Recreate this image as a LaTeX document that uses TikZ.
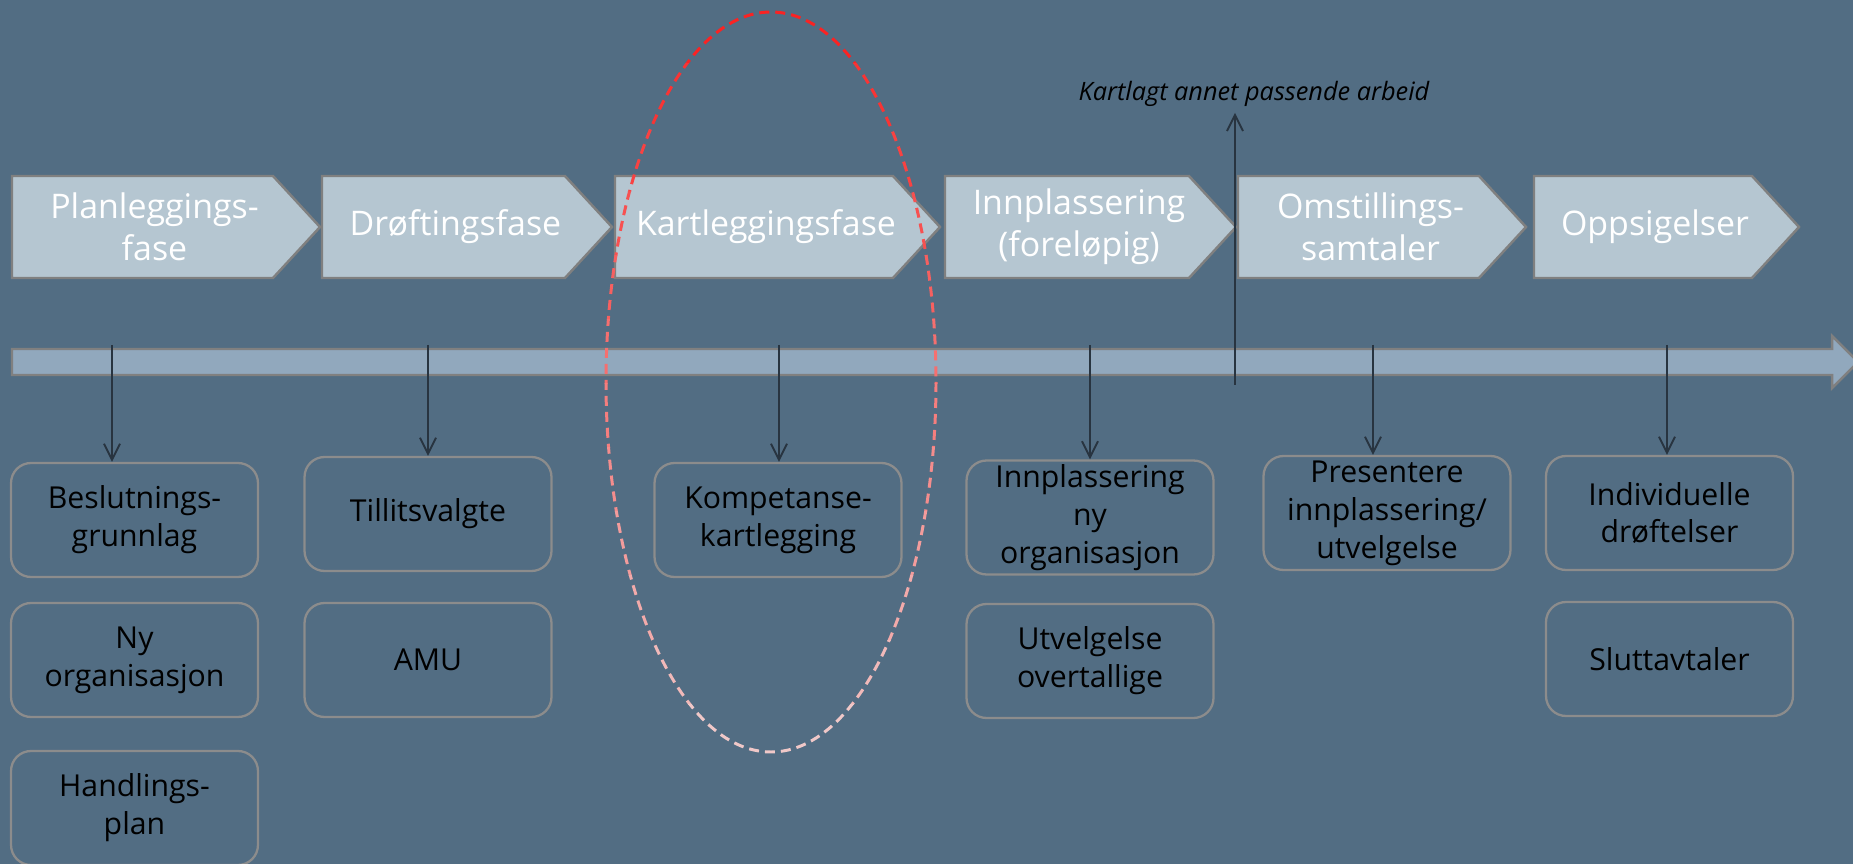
\documentclass[tikz,border=0pt]{standalone}
\usepackage{fontspec}
\setmainfont{Open Sans}
\usetikzlibrary{arrows.meta}
\definecolor{bgblue}{RGB}{82,109,131}
\definecolor{chevfill}{RGB}{181,198,209}
\definecolor{chevline}{RGB}{128,128,128}
\definecolor{barfill}{RGB}{145,168,189}
\definecolor{boxline}{RGB}{140,140,140}
\definecolor{arrowdark}{RGB}{40,52,64}
\definecolor{redtop}{RGB}{250,35,35}
\definecolor{pinkbot}{RGB}{240,200,200}
\tikzset{
	phase/.style={fill=chevfill, draw=chevline, line width=1.4pt},
	phasetext/.style={text=white, align=center, font=\fontsize{19.3}{24}\selectfont},
	task/.style={draw=boxline, line width=1.3pt, rounded corners=0.4cm, minimum width=4.94cm, minimum height=2.28cm, inner sep=0pt, align=center, font=\fontsize{17.2}{21.6}\selectfont},
	link/.style={->, draw=arrowdark, line width=1.1pt},
	ring/.style={dash pattern=on 0.2cm off 0.12cm, line width=1.7pt}
}
\begin{document}
\begin{tikzpicture}[x=0.02cm, y=-0.02cm, >={Straight Barb[length=0.32cm,width=0.32cm]}]
	\fill[bgblue] (0,0) rectangle (1853,864);
	\useasboundingbox (0,0) rectangle (1853,864);
	\foreach \n/\x/\w/\t in {1/12/261/{Planleggings-\\fase}, 2/322/243/{Drøftingsfase}, 3/615/278/{Kartleggingsfase}, 4/945/244/{Innplassering\\(foreløpig)}, 5/1238/241/{Omstillings-\\samtaler}, 6/1534/218/{Oppsigelser}}
	{
		\draw[phase] (\x,176) -- ++(\w,0) -- ++(47,51) -- ++(-47,51) -- ++(-\w,0) -- cycle;
		\node[phasetext] (f\n) at ({\x+\w/2+12},227) {\t};
	}
	\draw[fill=barfill, draw=chevline, line width=1.4pt] (12,349) -- (1832,349) -- (1832,336) -- (1858,362) -- (1832,388) -- (1832,375) -- (12,375) -- cycle;
	\foreach \i/\x in {1/112,2/428,3/779,4/1090,5/1373,6/1667}
		\coordinate (t\i) at (\x,345);
	\node[task] (b11) at (134.5,520) {Beslutnings-\\grunnlag};
	\node[task] (b12) at (134.5,660) {Ny\\organisasjon};
	\node[task] (b13) at (134.5,808) {Handlings-\\plan};
	\node[task] (b21) at (428,514) {Tillitsvalgte};
	\node[task] (b22) at (428,660) {AMU};
	\node[task] (b31) at (778,520) {Kompetanse-\\kartlegging};
	\node[task] (b41) at (1090,517.5) {Innplassering\\ny\\organisasjon};
	\node[task] (b42) at (1090,661) {Utvelgelse\\overtallige};
	\node[task] (b51) at (1387,513) {Presentere\\innplassering/\\utvelgelse};
	\node[task] (b61) at (1669.5,513) {Individuelle\\drøftelser};
	\node[task] (b62) at (1669.5,659) {Sluttavtaler};
	\foreach \i/\b in {1/b11,2/b21,3/b31,4/b41,5/b51,6/b61}
		\draw[link] (t\i) -- (t\i |- \b.north);
	\node[font=\itshape\fontsize{14.4}{17}\selectfont] (kart) at (1254,94) {Kartlagt annet passende arbeid};
	\coordinate (k0) at (1235,385);
	\draw[link] (k0) -- (k0 |- kart.south);
	\foreach \i in {0,...,11}
	{
		\pgfmathtruncatemacro\p{100-\i*100/11}
		\begin{scope}
			\clip (500,{\i*64}) rectangle (1000,{(\i+1)*64});
			\draw[ring, redtop!\p!pinkbot] (771,382) ellipse [x radius=165, y radius=370];
		\end{scope}
	}
\end{tikzpicture}
\end{document}
